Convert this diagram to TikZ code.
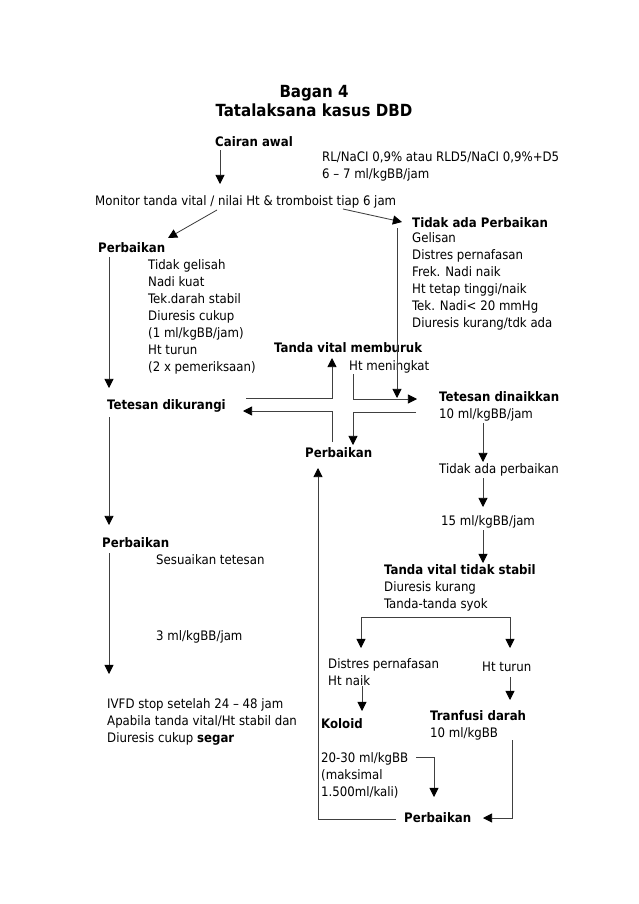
\documentclass[tikz,border=0pt]{standalone}
\usepackage{fontspec}
\setmainfont{DejaVu Sans Condensed}
\usetikzlibrary{arrows.meta}

\tikzset{
	txt/.style={anchor=north west,inner sep=0pt,align=left,font=\fontsize{12.2}{15.9}\selectfont},
	hd/.style={txt,font=\fontsize{12.2}{15.9}\selectfont\bfseries},
	ln/.style={draw=black!75,line width=0.8pt},
	arr/.style={ln,-{Triangle[length=8.5pt,width=8.5pt,color=black]}},
	biarr/.style={ln,{Triangle[length=8.5pt,width=8.5pt,color=black]}-{Triangle[length=8.5pt,width=8.5pt,color=black]}}
}

\begin{document}
\begin{tikzpicture}[x=0.9326pt,y=-0.9326pt]
			\useasboundingbox (0,0) rectangle (638,904);
			\node[inner sep=0pt,align=center,font=\fontsize{15.6}{18.3}\selectfont\bfseries] (judul) at (314,101){Bagan 4\\Tatalaksana kasus DBD};

			\node[hd] (cairan) at (215,136){Cairan awal};
			\node[txt] (rl) at (322,152){RL/NaCI 0,9\% atau RLD5/NaCI 0,9\%+D5\\6 -- 7 ml/kgBB/jam};
			\node[txt] (monitor) at (95,195){Monitor tanda vital / nilai Ht \& tromboist tiap 6 jam};

			\node[hd] (perb1) at (98,242){Perbaikan};
			\node[txt] (baik1) at (148,259){Tidak gelisah\\Nadi kuat\\Tek.darah stabil\\Diuresis cukup\\(1 ml/kgBB/jam)\\Ht turun\\(2 x pemeriksaan)};
			\node[hd] (tidak1) at (412,217){Tidak ada Perbaikan};
			\node[txt] (buruk1) at (412,232){Gelisan\\Distres pernafasan\\Frek. Nadi naik\\Ht tetap tinggi/naik\\Tek. Nadi< 20 mmHg\\Diuresis kurang/tdk ada};

			\node[hd] (memburuk) at (274,342){Tanda vital memburuk};
			\node[txt] (htnaik1) at (349,360){Ht meningkat};
			\node[hd] (kurangi) at (107,399){Tetesan dikurangi};
			\node[txt] (naikkan) at (439,391){\textbf{Tetesan dinaikkan}\\10 ml/kgBB/jam};
			\node[hd] (perb2) at (305,447){Perbaikan};
			\node[txt] (tidak2) at (439,463){Tidak ada perbaikan};
			\node[txt] (ml15) at (441,515){15 ml/kgBB/jam};
			\node[txt] (stabil) at (384,564){\textbf{Tanda vital tidak stabil}\\Diuresis kurang\\Tanda-tanda syok};
			\node[txt] (distres) at (328,658){Distres pernafasan\\Ht naik};
			\node[txt] (htturun) at (482,662){Ht turun};
			\node[hd] (koloid) at (321,718){Koloid};
			\node[txt] (tranfusi) at (430,710){\textbf{Tranfusi darah}\\10 ml/kgBB};
			\node[txt] (dosis) at (321,752){20-30 ml/kgBB\\(maksimal\\1.500ml/kali)};
			\node[hd] (perb3) at (404,812){Perbaikan};

			\node[hd] (perb4) at (102,537){Perbaikan};
			\node[txt] (sesuai) at (156,554){Sesuaikan tetesan};
			\node[txt] (ml3) at (156,630){3 ml/kgBB/jam};
			\node[txt] (ivfd) at (107,698){IVFD stop setelah 24 -- 48 jam\\Apabila tanda vital/Ht stabil dan\\Diuresis cukup \textbf{segar}};

			% titik bantu
			\coordinate (c1a) at (220,150); \coordinate (c1b) at (220,184);
			\coordinate (c2a) at (217,210); \coordinate (c2b) at (168,238);
			\coordinate (c3a) at (343,209); \coordinate (c3b) at (402,222);
			\coordinate (c4a) at (397,228); \coordinate (c4b) at (397,398);
			\coordinate (c5a) at (109,257); \coordinate (c5b) at (109,388);
			\coordinate (c6a) at (246,398); \coordinate (c6b) at (332,398); \coordinate (c6c) at (332,358);
			\coordinate (c7a) at (353,374); \coordinate (c7b) at (353,399); \coordinate (c7c) at (417,399);
			\coordinate (c8a) at (416,412); \coordinate (c8b) at (353,412); \coordinate (c8c) at (353,445);
			\coordinate (c9a) at (332,442); \coordinate (c9b) at (332,411); \coordinate (c9c) at (243,411);
			\coordinate (c10a) at (483,423); \coordinate (c10b) at (483,462);
			\coordinate (c11a) at (483,478); \coordinate (c11b) at (483,507);
			\coordinate (c12a) at (483,530); \coordinate (c12b) at (483,563);
			\coordinate (c13a) at (361,648); \coordinate (c13b) at (361,617); \coordinate (c13c) at (510,617); \coordinate (c13d) at (510,648);
			\coordinate (c14a) at (510,677); \coordinate (c14b) at (510,700);
			\coordinate (c15a) at (362,686); \coordinate (c15b) at (362,711);
			\coordinate (c16a) at (416,757); \coordinate (c16b) at (434,757); \coordinate (c16c) at (434,797);
			\coordinate (c17a) at (512,740); \coordinate (c17b) at (512,818); \coordinate (c17c) at (483,818);
			\coordinate (c18a) at (396,819); \coordinate (c18b) at (318,819); \coordinate (c18c) at (318,468);
			\coordinate (c19a) at (109,417); \coordinate (c19b) at (109,525);
			\coordinate (c20a) at (109,553); \coordinate (c20b) at (109,674);

			\draw[arr] (c1a) -- (c1b);
			\draw[arr] (c2a) -- (c2b);
			\draw[arr] (c3a) -- (c3b);
			\draw[arr] (c4a) -- (c4b);
			\draw[arr] (c5a) -- (c5b);
			\draw[arr] (c6a) -- (c6b) -- (c6c);
			\draw[arr] (c7a) -- (c7b) -- (c7c);
			\draw[arr] (c8a) -- (c8b) -- (c8c);
			\draw[arr] (c9a) -- (c9b) -- (c9c);
			\draw[arr] (c10a) -- (c10b);
			\draw[arr] (c11a) -- (c11b);
			\draw[arr] (c12a) -- (c12b);
			\draw[biarr] (c13a) -- (c13b) -- (c13c) -- (c13d);
			\draw[arr] (c14a) -- (c14b);
			\draw[arr] (c15a) -- (c15b);
			\draw[arr] (c16a) -- (c16b) -- (c16c);
			\draw[arr] (c17a) -- (c17b) -- (c17c);
			\draw[arr] (c18a) -- (c18b) -- (c18c);
			\draw[arr] (c19a) -- (c19b);
			\draw[arr] (c20a) -- (c20b);
		\end{tikzpicture}
\end{document}
